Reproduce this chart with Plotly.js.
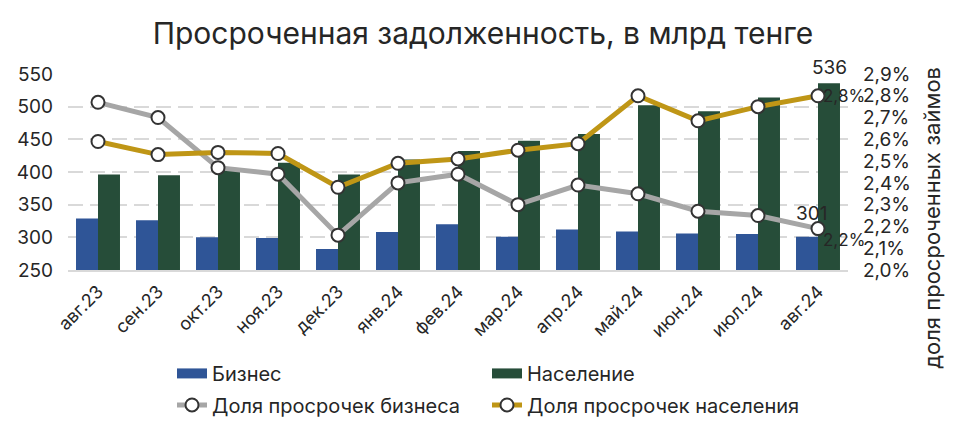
<!DOCTYPE html>
<html>
<head>
<meta charset="utf-8">
<script src="https://cdn.plot.ly/plotly-3.0.1.min.js"></script>
<style>html,body{margin:0;padding:0;background:#fff;}#chart{width:966px;height:437px;}</style>
</head>
<body>
<div id="chart"></div>
<script>
const months = ['авг.23','сен.23','окт.23','ноя.23','дек.23','янв.24','фев.24','мар.24','апр.24','май.24','июн.24','июл.24','авг.24'];
const business = [329, 326, 300, 299, 282, 308, 320, 301, 312, 309, 306, 305, 301];
const population = [396, 395, 403, 414, 396, 419, 432, 448, 458, 502, 493, 514, 536];
const shareBusiness = [2.77, 2.70, 2.47, 2.44, 2.16, 2.40, 2.44, 2.30, 2.39, 2.35, 2.27, 2.25, 2.19];
const sharePopulation = [2.59, 2.53, 2.54, 2.535, 2.38, 2.49, 2.51, 2.55, 2.58, 2.80, 2.685, 2.75, 2.80];

const last = months.length - 1;
const fmtPct = v => v.toFixed(1).replace('.', ',') + '%';

const FONT = 'Inter, sans-serif';
const TXT = '#262626';
const BLUE = '#2F5597', GREEN = '#264D39', GREY = '#A6A6A6', GOLD = '#BF9616';

const traces = [
  {type:'bar', name:'Бизнес', x:months, y:business, marker:{color:BLUE}, showlegend:false},
  {type:'bar', name:'Население', x:months, y:population, marker:{color:GREEN}, showlegend:false},
  // legend swatches for the bars (empty traces)
  {type:'scatter', mode:'lines', name:'Бизнес', x:[null], y:[null], line:{color:BLUE, width:10}, legend:'legend'},
  {type:'scatter', mode:'lines', name:'Население', x:[null], y:[null], line:{color:GREEN, width:10}, legend:'legend'},
  {type:'scatter', mode:'lines+markers', name:'Доля просрочек бизнеса', x:months, y:shareBusiness, yaxis:'y2',
   line:{color:GREY, width:5}, marker:{size:13, color:'#FFFFFF', line:{color:'#333333', width:2}},
   cliponaxis:false, legend:'legend2'},
  {type:'scatter', mode:'lines+markers', name:'Доля просрочек населения', x:months, y:sharePopulation, yaxis:'y2',
   line:{color:GOLD, width:5}, marker:{size:13, color:'#FFFFFF', line:{color:'#333333', width:2}},
   cliponaxis:false, legend:'legend2'}
];

const labelFont = {family:FONT, size:19, color:TXT};
const pctFont = {family:FONT, size:17, color:TXT};
const annotations = [
  {x:months[last], y:population[last], xref:'x', yref:'y', text:String(population[last]), showarrow:false,
   xanchor:'center', yanchor:'bottom', xshift:11, yshift:2, font:labelFont},
  {x:months[last], y:business[last], xref:'x', yref:'y', text:String(business[last]), showarrow:false,
   xanchor:'center', yanchor:'bottom', xshift:-7, yshift:10, font:labelFont},
  {x:months[last], y:sharePopulation[last], xref:'x', yref:'y2', text:fmtPct(sharePopulation[last]), showarrow:false,
   xanchor:'left', yanchor:'middle', xshift:3, yshift:0, font:pctFont},
  {x:months[last], y:shareBusiness[last], xref:'x', yref:'y2', text:fmtPct(shareBusiness[last]), showarrow:false,
   xanchor:'left', yanchor:'middle', xshift:3, yshift:-11, font:pctFont},
  {text:'доля просроченных займов', textangle:-90, xref:'paper', yref:'paper',
   x:(932-68)/780, y:(273-220)/199, xanchor:'center', yanchor:'middle', showarrow:false,
   font:{family:FONT, size:22, color:TXT}}
];

const layout = {
  width:966, height:437,
  margin:{l:68, r:118, t:74, b:164},
  paper_bgcolor:'#FFFFFF', plot_bgcolor:'#FFFFFF',
  separators:', ',
  font:{family:FONT, color:TXT},
  title:{text:'Просроченная задолженность, в млрд тенге', font:{family:FONT, size:30, color:TXT},
         x:0.5, xanchor:'center', y:1-33/437, yanchor:'middle'},
  barmode:'group', bargap:0.267, bargroupgap:0,
  xaxis:{type:'category', range:[-0.5, months.length - 0.5], autorange:false,
         tickangle:-45, tickfont:{family:FONT, size:18, color:TXT}, automargin:false,
         showline:true, linecolor:'#D9D9D9', linewidth:2, ticks:'', showgrid:false, ticklabelstandoff:2},
  yaxis:{range:[250,550], dtick:50, tick0:250, tickfont:{family:FONT, size:19, color:TXT}, automargin:false,
         showgrid:true, gridcolor:'#D9D9D9', gridwidth:2, griddash:'15px,7px', zeroline:false,
         ticks:'', ticklabelstandoff:14},
  yaxis2:{overlaying:'y', side:'right', range:[2.0,2.9], dtick:0.1, tick0:2.0, tickformat:'.1f', ticksuffix:'%',
          tickfont:{family:FONT, size:19, color:TXT}, showgrid:false, zeroline:false, automargin:false,
          ticks:'', ticklabelstandoff:14},
  legend:{orientation:'h', x:(172-68)/780, xanchor:'left', y:(273-378)/199, yanchor:'middle',
          entrywidth:270, entrywidthmode:'pixels', font:{family:FONT, size:20, color:TXT},
          bgcolor:'rgba(0,0,0,0)', traceorder:'normal'},
  legend2:{orientation:'h', x:(172-68)/780, xanchor:'left', y:(273-410)/199, yanchor:'middle',
          entrywidth:270, entrywidthmode:'pixels', font:{family:FONT, size:20, color:TXT},
          bgcolor:'rgba(0,0,0,0)', traceorder:'normal'},
  annotations:annotations,
  showlegend:true
};

Plotly.newPlot('chart', traces, layout, {displayModeBar:false, staticPlot:true});
</script>
</body>
</html>
